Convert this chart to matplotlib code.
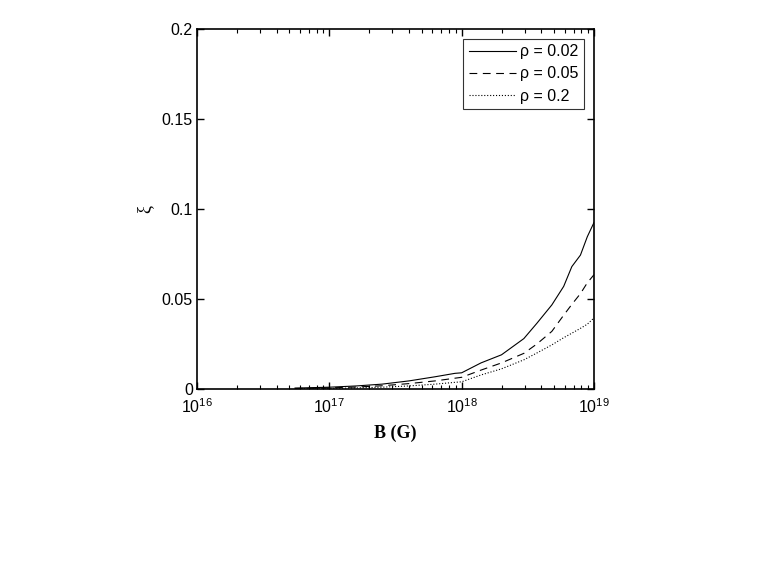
import matplotlib
matplotlib.use("Agg")
import matplotlib.pyplot as plt
from matplotlib.ticker import LogLocator, NullFormatter, FixedLocator

plt.rcParams['font.family'] = ['Liberation Sans', 'DejaVu Sans']

B = [5.5e16, 1.0e17, 1.6e17, 2.5e17, 4.0e17, 6.3e17, 8.9e17, 1.0e18, 1.4e18,
     2.0e18, 2.95e18, 3.7e18, 4.8e18, 5.9e18, 6.8e18, 7.9e18, 8.9e18, 1.0e19]
xi_002 = [0.0005, 0.001, 0.0017, 0.0027, 0.0045, 0.0068, 0.0087, 0.009, 0.0145,
          0.019, 0.028, 0.0365, 0.0467, 0.057, 0.068, 0.0744, 0.0846, 0.0925]
xi_005 = [0.0003, 0.0006, 0.0011, 0.0018, 0.003, 0.0045, 0.006, 0.0065, 0.0105,
          0.0145, 0.0198, 0.025, 0.032, 0.041, 0.047, 0.053, 0.059, 0.0635]
xi_02 = [0.0001, 0.0003, 0.0006, 0.001, 0.0017, 0.0027, 0.0037, 0.004, 0.0078,
         0.0112, 0.0162, 0.020, 0.0245, 0.0285, 0.031, 0.0337, 0.036, 0.0395]
labels = ['ρ = 0.02', 'ρ = 0.05', 'ρ = 0.2']
yticks = [0, 0.05, 0.1, 0.15, 0.2]
yticklabels = ['0', '0.05', '0.1', '0.15', '0.2']

fig = plt.figure(figsize=(7.63, 5.68), dpi=100)
ax = fig.add_axes([197/763, 1-389/568, (594-197)/763, (389-29)/568])

ax.plot(B, xi_002, '-', color='black', lw=0.8, label=labels[0])
ax.plot(B, xi_005, '--', color='black', lw=0.8, dashes=(7, 5), label=labels[1])
ax.plot(B, xi_02, ':', color='black', lw=0.8, label=labels[2])

ax.set_xscale('log')
ax.set_xlim(1e16, 1e19)
ax.set_ylim(0, 0.2)
ax.yaxis.set_major_locator(FixedLocator(yticks))
ax.set_yticklabels(yticklabels)
ax.xaxis.set_major_locator(LogLocator(base=10, numticks=10))
ax.xaxis.set_minor_locator(LogLocator(base=10, subs=range(2, 10), numticks=100))
ax.xaxis.set_minor_formatter(NullFormatter())

ax.tick_params(which='both', direction='in', top=True, right=True, labelsize=11.5)
ax.tick_params(axis='x', which='both', pad=6)
ax.tick_params(axis='y', which='both', pad=3)
ax.tick_params(which='major', length=5, width=1)
ax.tick_params(which='minor', length=3, width=0.8)
for s in ax.spines.values():
    s.set_linewidth(1.2)

ax.set_xlabel('B (G)', family='Liberation Serif', fontweight='bold', fontsize=13, labelpad=6)
ax.set_ylabel('ξ', family='Liberation Serif', fontsize=13, labelpad=6)

leg = ax.legend(loc='upper right', fontsize=11.5, frameon=True, fancybox=False,
                edgecolor='black', handlelength=3.0, borderpad=0.35,
                labelspacing=0.45, handletextpad=0.25, borderaxespad=0.6)
leg.get_frame().set_linewidth(0.8)

fig.savefig('out.png', dpi=100)
